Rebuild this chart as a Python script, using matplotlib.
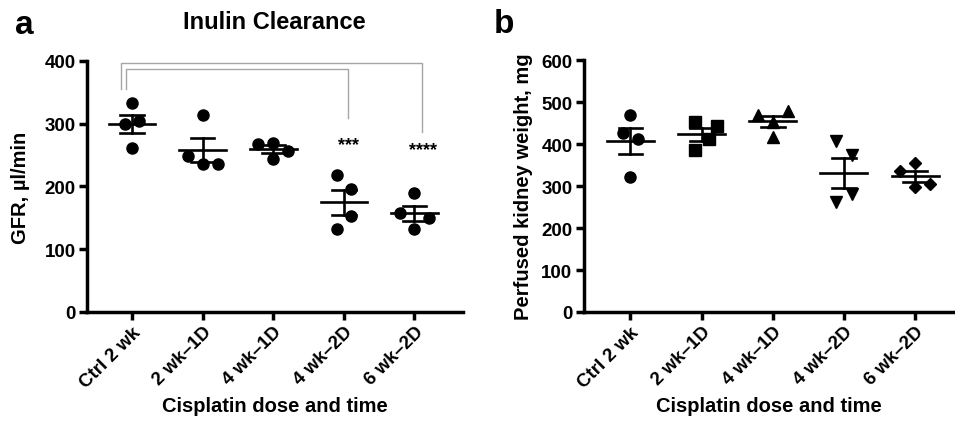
import numpy as np
import matplotlib
matplotlib.use('Agg')
import matplotlib.pyplot as plt

plt.rcParams['font.family'] = ['Liberation Sans', 'DejaVu Sans']
plt.rcParams['font.weight'] = 'bold'

# Data
groups = ["Ctrl 2 wk", "2 wk\u20131D", "4 wk\u20131D", "4 wk\u20132D", "6 wk\u20132D"]

gfr_ctrl = [333, 300, 305, 262]
gfr_2wk1d = [314, 249, 235, 235]
gfr_4wk1d = [268, 270, 244, 256]
gfr_4wk2d = [219, 196, 153, 132]
gfr_6wk2d = [190, 157, 149, 133]
gfr_offsets = [[0, -0.1, 0.1, 0], [0, -0.21, 0, 0.22], [-0.21, 0, 0, 0.21], [-0.1, 0.1, 0.1, -0.1], [0, -0.21, 0.21, 0]]

kw_ctrl = [469, 426, 412, 321]
kw_2wk1d = [453, 444, 412, 385]
kw_4wk1d = [470, 478, 452, 417]
kw_4wk2d = [408, 375, 282, 262]
kw_6wk2d = [354, 336, 306, 297]
kw_offsets = [[0, -0.1, 0.1, 0], [-0.1, 0.21, 0.11, -0.1], [-0.21, 0.22, 0, 0], [-0.11, 0.11, 0.11, -0.11], [0, -0.21, 0.21, 0]]
kw_markers = ['o', 's', '^', 'v', 'D']

sig_labels = ["***", "****"]


def draw_scatter(ax, data, offsets, markers):
    for i, vals in enumerate(data):
        vals = np.array(vals, dtype=float)
        xs = i + np.array(offsets[i])
        ms = 8 if markers[i] != 'D' else 6.5
        ax.plot(xs, vals, linestyle='none', marker=markers[i], color='black',
                markersize=ms, zorder=3, clip_on=False)
        m = vals.mean()
        sem = vals.std(ddof=1) / np.sqrt(len(vals))
        ax.plot([i - 0.33, i + 0.33], [m, m], color='black', lw=1.9, zorder=4)
        ax.plot([i, i], [m - sem, m + sem], color='black', lw=1.9, zorder=4)
        for y in (m - sem, m + sem):
            ax.plot([i - 0.165, i + 0.165], [y, y], color='black', lw=1.9, zorder=4)


def style_axes(ax, ymax, step, ylabel, ylab_x):
    ax.set_ylim(0, ymax)
    ax.set_yticks(np.arange(0, ymax + 1, step))
    ax.set_xticks(range(len(groups)))
    ax.set_xticklabels(groups, rotation=45, ha='right', rotation_mode='anchor',
                       fontsize=13.5, fontweight='bold')
    for lab in ax.get_yticklabels():
        lab.set_fontsize(13.5)
        lab.set_fontweight('bold')
    ax.spines['top'].set_visible(False)
    ax.spines['right'].set_visible(False)
    for s in ('left', 'bottom'):
        ax.spines[s].set_linewidth(2.5)
    ax.tick_params(axis='both', length=6, width=2.5, pad=2)
    ax.set_xlabel("Cisplatin dose and time", fontsize=14.5, fontweight='bold')
    ax.set_ylabel(ylabel, fontsize=14.5, fontweight='bold')
    ax.xaxis.set_label_coords(0.5, -0.335)
    ax.yaxis.set_label_coords(ylab_x, 0.5)


fig = plt.figure(figsize=(9.55, 4.27), dpi=100)
ax1 = fig.add_axes([0.091, 0.267, 0.394, 0.588])
ax2 = fig.add_axes([0.611, 0.267, 0.389, 0.590])

gfr = [gfr_ctrl, gfr_2wk1d, gfr_4wk1d, gfr_4wk2d, gfr_6wk2d]
draw_scatter(ax1, gfr, gfr_offsets, ['o'] * 5)
style_axes(ax1, 400, 100, "GFR, \u00b5l/min", -0.151)
ax1.set_xlim(-0.64, 4.69)
fig.text(0.287, 0.948, "Inulin Clearance", fontsize=17, fontweight='bold',
         ha='center', va='center')

# significance brackets
gray = '#a6a6a6'
ax1.plot([-0.15, -0.15, 4.11, 4.11], [355, 396, 396, 287], color=gray, lw=1, clip_on=False)
ax1.plot([-0.085, -0.085, 3.06, 3.06], [355, 387, 387, 309], color=gray, lw=1, clip_on=False)
ax1.text(3.07, 266, sig_labels[0], ha='center', va='center', fontsize=13, fontweight='bold')
ax1.text(4.12, 259, sig_labels[1], ha='center', va='center', fontsize=13, fontweight='bold')

kw = [kw_ctrl, kw_2wk1d, kw_4wk1d, kw_4wk2d, kw_6wk2d]
draw_scatter(ax2, kw, kw_offsets, kw_markers)
style_axes(ax2, 600, 100, "Perfused kidney weight, mg", -0.137)
ax2.set_xlim(-0.66, 4.56)

fig.text(0.016, 0.94, "a", fontsize=24, fontweight='bold', va='center')
fig.text(0.517, 0.942, "b", fontsize=24, fontweight='bold', va='center')

fig.savefig("out.png", dpi=100)
